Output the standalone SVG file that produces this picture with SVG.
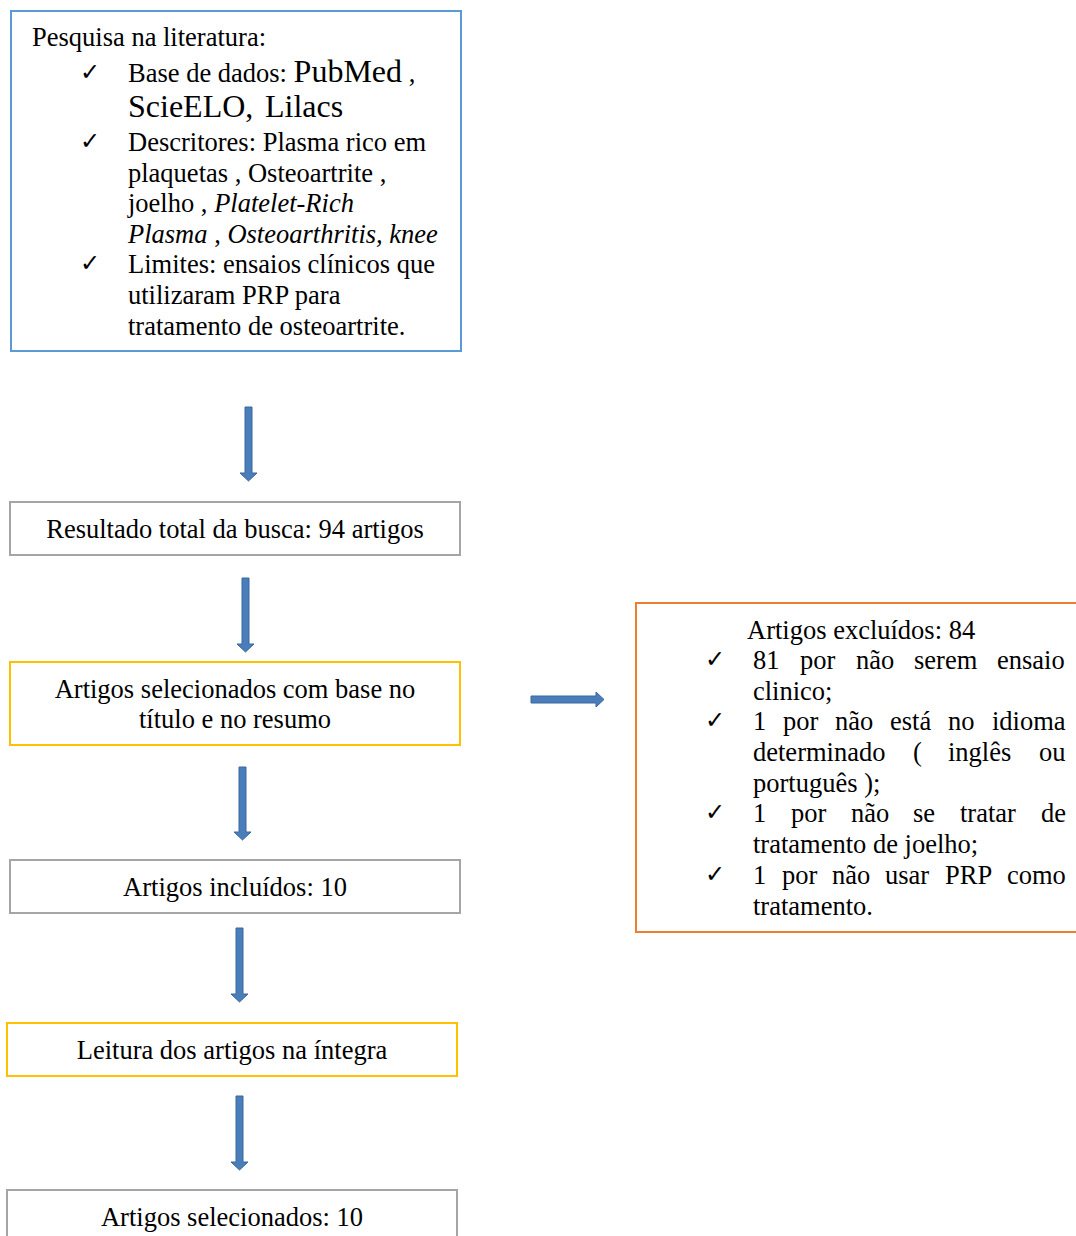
<svg xmlns="http://www.w3.org/2000/svg" width="1076" height="1236" viewBox="0 0 1076 1236">
<style>
text{font-family:"Liberation Serif","Times New Roman",serif;font-size:26.5px;fill:#000}
.c{text-anchor:middle}
.ck{font-family:"DejaVu Sans",sans-serif;font-size:24px}
.big{font-size:32px}
.i{font-style:italic}
.box{fill:#fff;stroke-width:2}
.blue{stroke:#5B9BD5}
.gray{stroke:#A5A5A5}
.yel{stroke:#FFC000}
.org{stroke:#ED7D31}
.arr{fill:#4A7EBB;stroke:#3A679C;stroke-width:1}
</style>
<rect width="1076" height="1236" fill="#fff"/>
<g id="n1">
<rect class="box blue" x="11" y="11" width="450" height="340"/>
<text x="32" y="46">Pesquisa na literatura:</text>
<text class="ck" x="80" y="80">✓</text>
<text x="128" y="82">Base de dados: <tspan class="big">PubMed</tspan> ,</text>
<text class="big" x="128" y="117">ScieELO,<tspan x="265">Lilacs</tspan></text>
<text class="ck" x="80" y="149">✓</text>
<text x="128" y="151">Descritores: Plasma rico em</text>
<text x="128" y="182">plaquetas , Osteoartrite ,</text>
<text x="128" y="212">joelho , <tspan class="i">Platelet-Rich</tspan></text>
<text x="128" y="243"><tspan class="i">Plasma</tspan> , <tspan class="i">Osteoarthritis, knee</tspan></text>
<text class="ck" x="80" y="271">✓</text>
<text x="128" y="273">Limites: ensaios clínicos que</text>
<text x="128" y="304">utilizaram PRP para</text>
<text x="128" y="335">tratamento de osteoartrite.</text>
</g>
<g id="n2">
<rect class="box gray" x="10" y="502" width="450" height="53"/>
<text class="c" x="235" y="538">Resultado total da busca: 94 artigos</text>
</g>
<g id="n3">
<rect class="box yel" x="10" y="662" width="450" height="83"/>
<text class="c" x="235" y="698">Artigos selecionados com base no</text>
<text class="c" x="235" y="728">título e no resumo</text>
</g>
<g id="n4">
<rect class="box gray" x="10" y="860" width="450" height="53"/>
<text class="c" x="235" y="896">Artigos incluídos: 10</text>
</g>
<g id="n5">
<rect class="box yel" x="7" y="1023" width="450" height="53"/>
<text class="c" x="232" y="1059">Leitura dos artigos na íntegra</text>
</g>
<g id="n6">
<rect class="box gray" x="7" y="1190" width="450" height="60"/>
<text class="c" x="232" y="1226">Artigos selecionados: 10</text>
</g>
<g id="n7">
<rect class="box org" x="636" y="603" width="450" height="329"/>
<text x="747" y="639">Artigos excluídos: 84</text>
<text class="ck" x="705" y="667">✓</text>
<text y="669"><tspan x="753">81</tspan><tspan x="800">por</tspan><tspan x="856">não</tspan><tspan x="914">serem</tspan><tspan x="997">ensaio</tspan></text>
<text x="753" y="700">clinico;</text>
<text class="ck" x="705" y="728">✓</text>
<text y="730"><tspan x="753">1</tspan><tspan x="783">por</tspan><tspan x="835">não</tspan><tspan x="890">está</tspan><tspan x="948">no</tspan><tspan x="992">idioma</tspan></text>
<text y="761"><tspan x="753">determinado</tspan><tspan x="913">(</tspan><tspan x="948">inglês</tspan><tspan x="1039">ou</tspan></text>
<text x="753" y="792">português );</text>
<text class="ck" x="705" y="820">✓</text>
<text y="822"><tspan x="753">1</tspan><tspan x="791">por</tspan><tspan x="851">não</tspan><tspan x="913">se</tspan><tspan x="960">tratar</tspan><tspan x="1041">de</tspan></text>
<text x="753" y="853">tratamento de joelho;</text>
<text class="ck" x="705" y="882">✓</text>
<text y="884"><tspan x="753">1</tspan><tspan x="782">por</tspan><tspan x="832">não</tspan><tspan x="885">usar</tspan><tspan x="945">PRP</tspan><tspan x="1007">como</tspan></text>
<text x="753" y="915">tratamento.</text>
</g>
<g id="connectors">
<path class="arr" d="M245,407 H252 V473 H257 L248.5,481 L240,473 H245 Z"/>
<path class="arr" d="M242,578 H249 V644 H254 L245.5,652 L237,644 H242 Z"/>
<path class="arr" d="M239,767 H246 V832 H251 L242.5,840 L234,832 H239 Z"/>
<path class="arr" d="M236,928 H243 V994 H248 L239.5,1002 L231,994 H236 Z"/>
<path class="arr" d="M236,1096 H243 V1162 H248 L239.5,1170 L231,1162 H236 Z"/>
<path class="arr" d="M531,696 H596 V692 L604,699.5 L596,707 V703 H531 Z"/>
</g>
</svg>
